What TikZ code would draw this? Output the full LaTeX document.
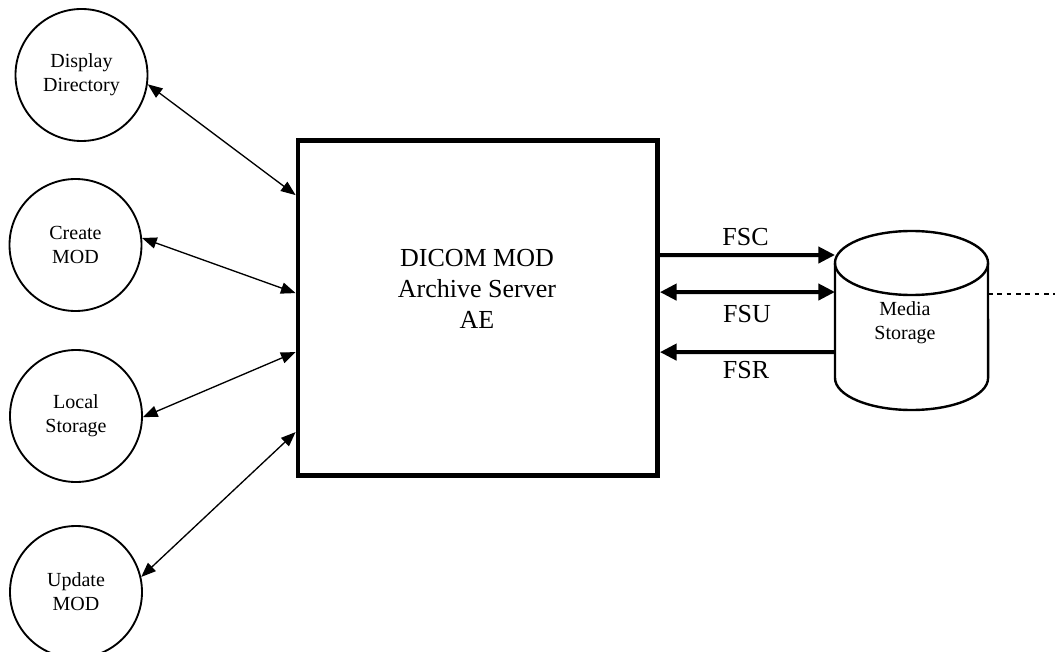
\documentclass[tikz,border=0pt]{standalone}
\usepackage{fontspec}
\setmainfont{Liberation Serif}
\usetikzlibrary{positioning,calc,arrows.meta}

\begin{document}
\begin{tikzpicture}[x=0.75pt, y=-0.75pt,
entity/.style={circle, draw=black, line width=1.4pt, minimum size=99pt, inner sep=0pt, align=center, font=\fontsize{15}{18}\selectfont},
server/.style={rectangle, draw=black, line width=3.6pt, minimum width=269.6pt, minimum height=251.25pt, inner sep=0pt},
link/.style={{Triangle[length=11pt,width=8.5pt]}-{Triangle[length=11pt,width=8.5pt]}, line width=1pt},
fsarrow/.style={line width=3pt, -{Triangle[length=12.5pt,width=12pt]}},
fsboth/.style={line width=3pt, {Triangle[length=12.5pt,width=12pt]}-{Triangle[length=12.5pt,width=12pt]}},
oplabel/.style={anchor=base, font=\fontsize{19.5}{23.25}\selectfont},
]
\useasboundingbox (0,0) rectangle (1055,652);

% application entities
\node[entity] (disp) at (81.5,75) {Display\\Directory};
\node[entity] (create) at (75.5,245) {Create\\MOD};
\node[entity] (local) at (76,416) {Local\\Storage};
\node[entity] (update) at (76,592) {Update\\MOD};

\node[server] (ae) at (477.75,308) {};
\node[align=center, font=\fontsize{19.5}{23.25}\selectfont] (aetext) at (477,289) {DICOM MOD\\Archive Server\\AE};

\draw[link] (disp.-8) -- ($(ae.north west)+(0,57)$);
\draw[link] (create.6) -- ($(ae.north west)+(0,155)$);
\draw[link] (local.-1) -- ($(ae.north west)+(0,214)$);
\draw[link] (update.13) -- ($(ae.north west)+(0,294)$);

% media storage
\draw[line width=1.8pt] (911.5,263) ellipse [x radius=57.4pt, y radius=24pt];
\draw[line width=1.8pt] (835,263) -- (835,378) arc[start angle=180, end angle=360, x radius=57.4pt, y radius=24pt] -- (988,263);
\node[align=center, font=\fontsize{15}{18}\selectfont] (media) at (905,323) {Media\\Storage};
\coordinate (cylfsc) at (835,255);
\coordinate (cylfsu) at (835,292);
\coordinate (cylfsr) at (835,352);
\coordinate (cylside) at (988,294);
\coordinate (edge) at (1055,294);

\draw[fsarrow] ($(ae.north east)+(0,117)$) -- (cylfsc);
\draw[fsboth] ($(ae.north east)+(0,154)$) -- (cylfsu);
\draw[fsarrow] (cylfsr) -- ($(ae.north east)+(0,214)$);
\node[oplabel] (fsc) at (745.5,245) {FSC};
\node[oplabel] (fsu) at (747,322) {FSU};
\node[oplabel] (fsr) at (746,378) {FSR};

\draw[line width=1pt, dash pattern=on 3.5pt off 3.5pt] (cylside) -- (edge);
\end{tikzpicture}
\end{document}
